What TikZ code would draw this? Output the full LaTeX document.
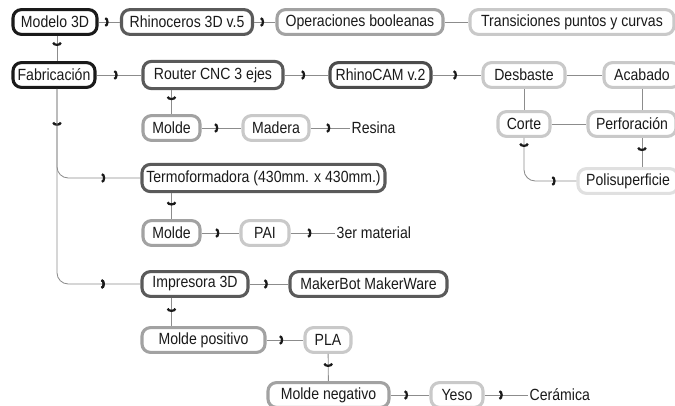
\documentclass[tikz,border=0pt]{standalone}
\usepackage{fontspec}
\setmainfont[FakeStretch=0.87]{Liberation Sans}
\usetikzlibrary{arrows.meta,decorations.markings}

\definecolor{ink}{HTML}{1A1A1A}
\definecolor{darkbox}{HTML}{5A5A5A}
\definecolor{midbox}{HTML}{A2A2A2}
\definecolor{lightbox}{HTML}{C9C9C9}
\definecolor{palebox}{HTML}{E0E0E0}
\definecolor{wire}{HTML}{8C8C8C}

\tikzset{
  box/.style={draw, rounded corners=6pt, line width=2.2pt, fill=white, text=ink,
    inner sep=0pt, minimum height=0.62cm},
  wd/.style={minimum width=#1*0.025cm},
  plain/.style={text=ink, inner sep=1pt, anchor=west},
  flow/.style={link, postaction={decorate}, decoration={markings,
    mark=at position #1 with {\arrow[ink]{Arc Barb[length=2.4pt, width=7pt, line width=1.6pt]}}}},
  flow/.default=0.47,
  link/.style={draw=wire, line width=0.6pt},
  bentflow/.style 2 args={link, rounded corners=8pt, postaction={decorate}, decoration={markings,
    mark=at position #1 with {\arrow[ink]{Arc Barb[length=2.4pt, width=7pt, line width=1.6pt]}},
    mark=at position #2 with {\arrow[ink]{Arc Barb[length=2.4pt, width=7pt, line width=1.6pt]}}}}
}

\begin{document}
\begin{tikzpicture}[x=0.025cm, y=-0.025cm, font=\fontsize{11.5}{13}\selectfont]
        \useasboundingbox (0, 0) rectangle (675, 406);
        \clip (0, 0) rectangle (675, 406);

        % first row
        \node[box, draw=ink, wd=84] at (55, 22)(modelo){Modelo 3D};
        \node[box, draw=darkbox, wd=131] at (187, 22)(rhino){Rhinoceros 3D v.5};
        \node[box, draw=midbox, wd=166] at (360, 22)(booleanas){Operaciones booleanas};
        \node[box, draw=lightbox, wd=204] at (572, 22)(transiciones){Transiciones puntos y curvas};

        % router branch
        \node[box, draw=ink, wd=82] at (54, 75)(fab){Fabricación};
        \coordinate (trunk) at (57, 75);
        \node[box, draw=darkbox, wd=140, minimum height=0.68cm] at (213, 75)(router){Router CNC 3 ejes};
        \node[box, draw=darkbox!85!black, wd=101] at (380.5, 75)(rhinocam){RhinoCAM v.2};
        \node[box, draw=lightbox, wd=82] at (524, 75)(desbaste){Desbaste};
        \node[box, draw=lightbox, wd=76] at (642, 75)(acabado){Acabado};
        \node[box, draw=lightbox, wd=52] at (524, 124)(corte){Corte};
        \node[box, draw=lightbox, wd=88] at (632, 124)(perforacion){Perforación};
        \node[box, draw=palebox, wd=100] at (628, 181)(polisup){Polisuperficie};
        \node[box, draw=midbox, wd=57] at (171.5, 128)(molde1){Molde};
        \node[box, draw=lightbox, wd=66] at (276, 128)(madera){Madera};
        \node[plain] at (350, 128)(resina){Resina};

        % termoformadora branch
        \node[box, draw=darkbox, wd=243, minimum height=0.68cm] at (263.5, 178)(termo){Termoformadora (430mm. x 430mm.)};
        \node[box, draw=midbox, wd=57] at (171.5, 233)(molde2){Molde};
        \node[box, draw=lightbox, wd=48] at (265, 233)(pai){PAI};
        \node[plain] at (335, 233)(tercer){3er material};

        % impresora branch
        \node[box, draw=darkbox, wd=106] at (195, 284)(impresora){Impresora 3D};
        \node[box, draw=darkbox, wd=157] at (368.5, 284)(makerbot){MakerBot MakerWare};
        \node[box, draw=midbox, wd=123] at (203.5, 340)(moldepos){Molde positivo};
        \node[box, draw=lightbox, wd=46] at (328, 340)(pla){PLA};
        \node[box, draw=midbox, wd=121] at (328.5, 395)(moldeneg){Molde negativo};
        \node[box, draw=lightbox, wd=52] at (457, 395)(yeso){Yeso};
        \node[plain] at (528, 395)(ceramica){Cerámica};

        \path
        (modelo)edge[flow](rhino)
        (rhino)edge[flow](booleanas)
        (booleanas)edge[link](transiciones)
        (modelo.south -| trunk)edge[flow=0.4](fab.north -| trunk)
        (fab)edge[flow](router)
        (router)edge[flow](rhinocam)
        (rhinocam)edge[flow=0.5](desbaste)
        (desbaste)edge[link](acabado)
        (desbaste)edge[link](corte)
        (acabado)edge[link](perforacion.north -| acabado)
        (corte)edge[link](perforacion)
        (perforacion.south -| acabado)edge[flow=0.45](polisup.north -| acabado)
        (router.south -| molde1)edge[flow=0.42](molde1)
        (molde1)edge[flow=0.42](madera)
        (madera)edge[flow=0.5](resina)
        (termo.south -| molde2)edge[flow=0.48](molde2)
        (molde2)edge[flow](pai)
        (pai)edge[flow](tercer)
        (impresora)edge[flow](makerbot)
        (impresora.south -| molde2)edge[flow=0.5](moldepos.north -| molde2)
        (moldepos)edge[flow=0.45](pla)
        (pla)edge[flow=0.48](moldeneg)
        (moldeneg)edge[flow=0.45](yeso)
        (yeso)edge[flow=0.42](ceramica)
        ;

        % bent connectors
        \draw[bentflow={0.22}{0.79}] (fab.south -| trunk) |- (termo.west);
        \draw[bentflow={0.87}{0.87}] (fab.south -| trunk) |- (impresora.west);
        \draw[bentflow={0.1}{0.77}] (corte) |- (polisup.west);
    \end{tikzpicture}
\end{document}
